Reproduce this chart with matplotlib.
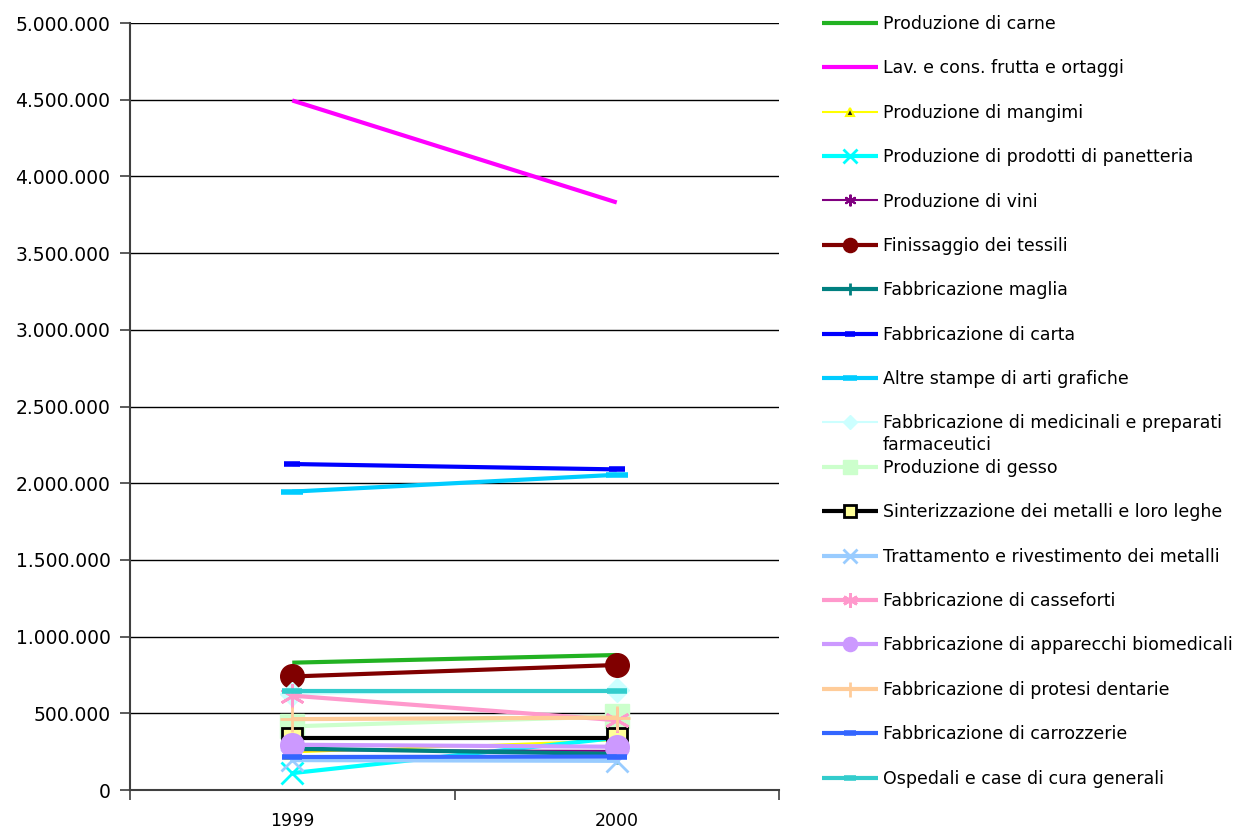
import matplotlib
matplotlib.use('Agg')
import matplotlib.pyplot as plt
from matplotlib.ticker import FuncFormatter

# dati (valori approssimati)
anni = ['1999', '2000']

carne = [830000, 880000]
frutta = [4495000, 3830000]
mangimi = [245000, 325000]
panetteria = [110000, 340000]
vini = [260000, 255000]
tessili = [740000, 815000]
maglia = [270000, 235000]
carta = [2125000, 2090000]
stampe = [1945000, 2055000]
medicinali = [625000, 655000]
gesso = [415000, 480000]
sinterizzazione = [340000, 340000]
trattamento = [195000, 190000]
casseforti = [615000, 455000]
biomedicali = [295000, 282000]
protesi = [462000, 472000]
carrozzerie = [215000, 218000]
ospedali = [645000, 645000]

asterisco = (6, 2, 0)

serie = [
    ('Produzione di carne', carne, dict(color='#22B222', lw=3)),
    ('Lav. e cons. frutta e ortaggi', frutta, dict(color='#FF00FF', lw=3)),
    ('Produzione di mangimi', mangimi, dict(color='#FFFF00', lw=1.5, marker='^', ms=10,
                                            mfc='#222222', mec='#FFFF00', mew=1.5)),
    ('Produzione di prodotti di panetteria', panetteria, dict(color='#00FFFF', lw=3, marker='x', ms=16, mew=2)),
    ('Produzione di vini', vini, dict(color='#800080', lw=1.5, marker=asterisco, ms=14, mew=1.5)),
    ('Finissaggio dei tessili', tessili, dict(color='#800000', lw=3, marker='o', ms=17)),
    ('Fabbricazione maglia', maglia, dict(color='#008080', lw=3, marker='|', ms=14, mew=2)),
    ('Fabbricazione di carta', carta, dict(color='#0000FF', lw=3, marker='_', ms=12, mew=4)),
    ('Altre stampe di arti grafiche', stampe, dict(color='#00CCFF', lw=3, marker='_', ms=16, mew=4)),
    ('Fabbricazione di medicinali e preparati', medicinali, dict(color='#CCFFFF', lw=1.5, marker='D', ms=12)),
    ('Produzione di gesso', gesso, dict(color='#CCFFCC', lw=3, marker='s', ms=17)),
    ('Sinterizzazione dei metalli e loro leghe', sinterizzazione, dict(color='black', lw=3, marker='s', ms=15,
                                                                        mfc='#FFFF99', mec='black', mew=2)),
    ('Trattamento e rivestimento dei metalli', trattamento, dict(color='#99CCFF', lw=3, marker='x', ms=16, mew=2)),
    ('Fabbricazione di casseforti', casseforti, dict(color='#FF99CC', lw=3, marker=asterisco, ms=18, mew=2)),
    ('Fabbricazione di apparecchi biomedicali', biomedicali, dict(color='#CC99FF', lw=3, marker='o', ms=17)),
    ('Fabbricazione di protesi dentarie', protesi, dict(color='#FFCC99', lw=3, marker='+', ms=18, mew=2)),
    ('Fabbricazione di carrozzerie', carrozzerie, dict(color='#3366FF', lw=3, marker='_', ms=14, mew=4)),
    ('Ospedali e case di cura generali', ospedali, dict(color='#33CCCC', lw=3, marker='_', ms=14, mew=4)),
]

plt.rcParams['font.family'] = 'DejaVu Sans'
fig = plt.figure(figsize=(12.4, 8.32), dpi=100)
ax = fig.add_axes([130 / 1240, 42 / 832, 649 / 1240, 767 / 832])

pos = [0.5, 1.5]
for nome, valori, stile in serie:
    ax.plot(pos, valori, label=nome, solid_capstyle='butt', **stile)

ax.set_xlim(0, 2)
ax.set_ylim(0, 5000000)
ax.set_yticks(range(0, 5000001, 500000))
ax.yaxis.set_major_formatter(FuncFormatter(lambda v, p: f'{int(v):,}'.replace(',', '.')))
ax.grid(axis='y', color='black', lw=1)
ax.set_axisbelow(True)

ax.set_xticks([0, 1, 2])
ax.set_xticklabels([])
ax.set_xticks(pos, minor=True)
ax.set_xticklabels(anni, minor=True)
ax.tick_params(axis='x', which='major', length=7, width=1.2, color='#404040')
ax.tick_params(axis='x', which='minor', length=0, pad=16, labelsize=12.5)
ax.tick_params(axis='y', length=7, width=1.2, color='#404040', pad=7, labelsize=13.5)

for lato in ['top', 'right']:
    ax.spines[lato].set_visible(False)
for lato in ['left', 'bottom']:
    ax.spines[lato].set_color('#404040')
    ax.spines[lato].set_linewidth(1.5)

leg = fig.legend(loc='upper left', bbox_to_anchor=(822 / 1240, 1 - 15 / 832), frameon=False,
                 fontsize=12.5, handlelength=3.2, handletextpad=0.3, labelspacing=1.52,
                 borderpad=0, borderaxespad=0, markerscale=0.6)

# la voce dei medicinali va a capo senza spostare le altre
fig.canvas.draw()
t = leg.get_texts()[9]
bb = t.get_window_extent()
fig.text(bb.x0 / 1240, (bb.y0 - 22) / 832, 'farmaceutici', fontsize=12.5, va='bottom', ha='left')

fig.savefig('out.png', dpi=100)
